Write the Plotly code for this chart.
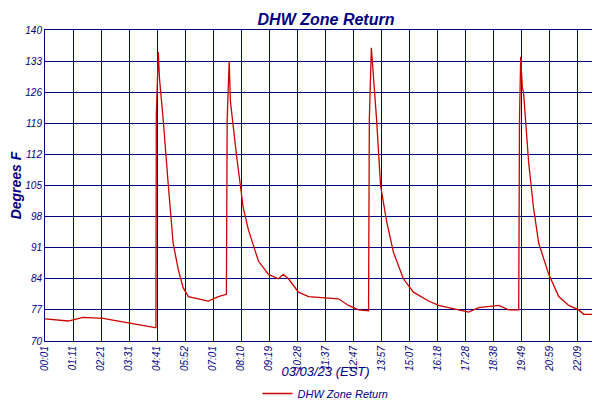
import plotly.graph_objects as go

minutes = [0,58,95,145,275,277,278,283,286,295,308,320,333,345,358,383,408,433,453,455,460,463,468,478,495,508,533,558,583,595,608,633,658,733,758,783,808,810,815,820,828,838,853,870,895,920,958,983,1033,1058,1083,1133,1158,1183,1185,1188,1192,1195,1208,1220,1233,1258,1283,1308,1333,1345,1370,1400]
temps = [75,74.5,75.3,75.1,73,73,121,135,129,120,105,92,86,82,80,79.5,79,80,80.5,120,133,124,120,112,100,95,88,85,84,85,84,81,80,79.5,78,77,76.8,120,136,130,120,105,97,90,84,81,79,78,77,76.5,77.5,78,77,77,120,134,127,126,110,100,92,85,80,78,77,76,76,76.5]
tick_vals = [i*70 for i in range(21)]
tick_text = ["00:01","01:11","02:21","03:31","04:41","05:52","07:01","08:10","09:19","10:28","11:37","12:47","13:57","15:07","16:18","17:28","18:38","19:49","20:59","22:09","23:19"]
y_ticks = [70,77,84,91,98,105,112,119,126,133,140]

navy = "#000080"
fnt = dict(family="Liberation Sans", color=navy, style="italic")
fig = go.Figure(go.Scatter(x=minutes, y=temps, mode="lines", name="DHW Zone Return",
                           line=dict(color="#cc0000", width=1.3)))
fig.update_layout(
    width=600, height=400, margin=dict(l=37, r=2, t=22, b=67),
    paper_bgcolor="white", plot_bgcolor="white",
    title=dict(text="<b>DHW Zone Return</b>", x=0.53, y=0.985, font=dict(size=16, **fnt)),
    showlegend=True,
    legend=dict(orientation="h", x=0.5, xanchor="center", yref="container", y=0.0, yanchor="bottom",
                font=dict(size=11, **fnt)),
    font=fnt,
)
fig.update_xaxes(range=[0,1401], tickvals=tick_vals, ticktext=tick_text, tickangle=-90, automargin=False,
                 tickfont=dict(size=10, **fnt), showgrid=True, gridcolor=navy, gridwidth=1,
                 showline=True, linecolor=navy, mirror=True, linewidth=1, zeroline=False,
                 title=dict(text="03/03/23 (EST)", font=dict(size=13, **fnt), standoff=5))
fig.update_yaxes(range=[70,140], tickvals=y_ticks, tickfont=dict(size=10, **fnt), automargin=False,
                 showgrid=True, gridcolor=navy, gridwidth=1, showline=True, linecolor=navy,
                 mirror=True, linewidth=1, zeroline=False,
                 title=dict(text="<b>Degrees F</b>", font=dict(size=14, **fnt), standoff=2))
fig.write_html("out.html")
